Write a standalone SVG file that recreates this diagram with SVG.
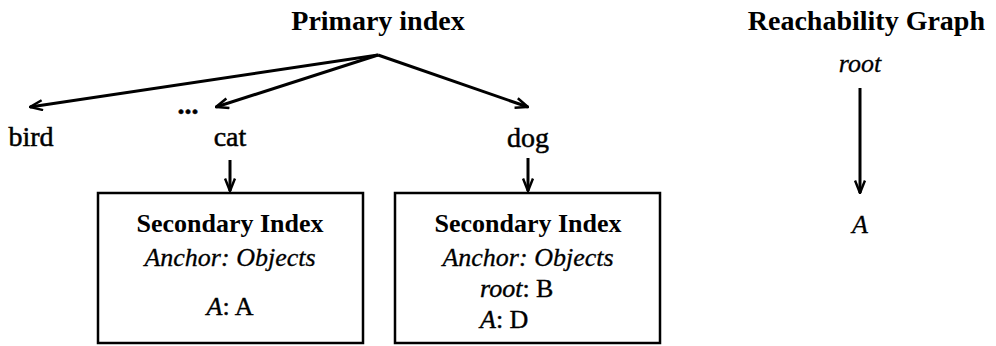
<svg xmlns="http://www.w3.org/2000/svg" width="996" height="346" viewBox="0 0 996 346">
  <style>
    text { font-family: "Liberation Serif", "Times New Roman", serif; fill: #000; }
    .title { font-size: 28px; font-weight: bold; }
    .key { font-size: 28px; stroke: #000; stroke-width: 0.5px; }
    .head { font-size: 26px; font-weight: bold; }
    .it { font-size: 26px; font-style: italic; stroke: #000; stroke-width: 0.3px; }
    .entry { font-size: 26px; stroke: #000; stroke-width: 0.4px; }
    .box { fill: #fff; stroke: #000; stroke-width: 2.5; }
    .edge { fill: none; stroke: #000; stroke-width: 3; marker-end: url(#barb); }
  </style>
  <defs>
    <marker id="barb" viewBox="0 0 12 10" refX="11" refY="5" markerWidth="5" markerHeight="4.2" orient="auto" markerUnits="strokeWidth">
      <path d="M1,1 L11,5 L1,9" fill="none" stroke="#000" stroke-width="2"/>
    </marker>
  </defs>

  <!-- headings -->
  <text id="primary-title" class="title" x="378" y="30" text-anchor="middle">Primary index</text>
  <text id="reach-title" class="title" x="985" y="30" text-anchor="end">Reachability Graph</text>

  <!-- index keys -->
  <g id="bird"><text class="key" x="31" y="146" text-anchor="middle">bird</text></g>
  <g id="ellipsis"><text class="key" x="188" y="114" text-anchor="middle" font-weight="bold">...</text></g>
  <g id="cat"><text class="key" x="230" y="146" text-anchor="middle">cat</text></g>
  <g id="dog"><text class="key" x="528" y="147" text-anchor="middle">dog</text></g>

  <!-- secondary index under "cat" -->
  <g id="sec-cat">
    <rect class="box" x="98" y="193" width="265" height="150"/>
    <text class="head" x="230" y="232" text-anchor="middle">Secondary Index</text>
    <text class="it" x="230" y="266" text-anchor="middle">Anchor: Objects</text>
    <text class="entry" x="230" y="315" text-anchor="middle"><tspan font-style="italic">A</tspan>: A</text>
  </g>

  <!-- secondary index under "dog" -->
  <g id="sec-dog">
    <rect class="box" x="395" y="193" width="265" height="150"/>
    <text class="head" x="528" y="232" text-anchor="middle">Secondary Index</text>
    <text class="it" x="528" y="266" text-anchor="middle">Anchor: Objects</text>
    <text class="entry" x="480" y="297"><tspan font-style="italic">root</tspan>: B</text>
    <text class="entry" x="480" y="328"><tspan font-style="italic">A</tspan>: D</text>
  </g>

  <!-- reachability graph nodes -->
  <g id="root"><text class="it" x="860" y="72" text-anchor="middle">root</text></g>
  <g id="node-a"><text class="it" x="860" y="233" text-anchor="middle">A</text></g>

  <!-- connectors -->
  <g id="connectors">
    <line class="edge" x1="378" y1="55" x2="30" y2="107"/>
    <line class="edge" x1="378" y1="55" x2="216" y2="107"/>
    <line class="edge" x1="378" y1="55" x2="528" y2="107"/>
    <line class="edge" x1="230" y1="160" x2="230" y2="191"/>
    <line class="edge" x1="528" y1="158" x2="528" y2="191"/>
    <line class="edge" x1="860" y1="88" x2="860" y2="193"/>
  </g>
</svg>
